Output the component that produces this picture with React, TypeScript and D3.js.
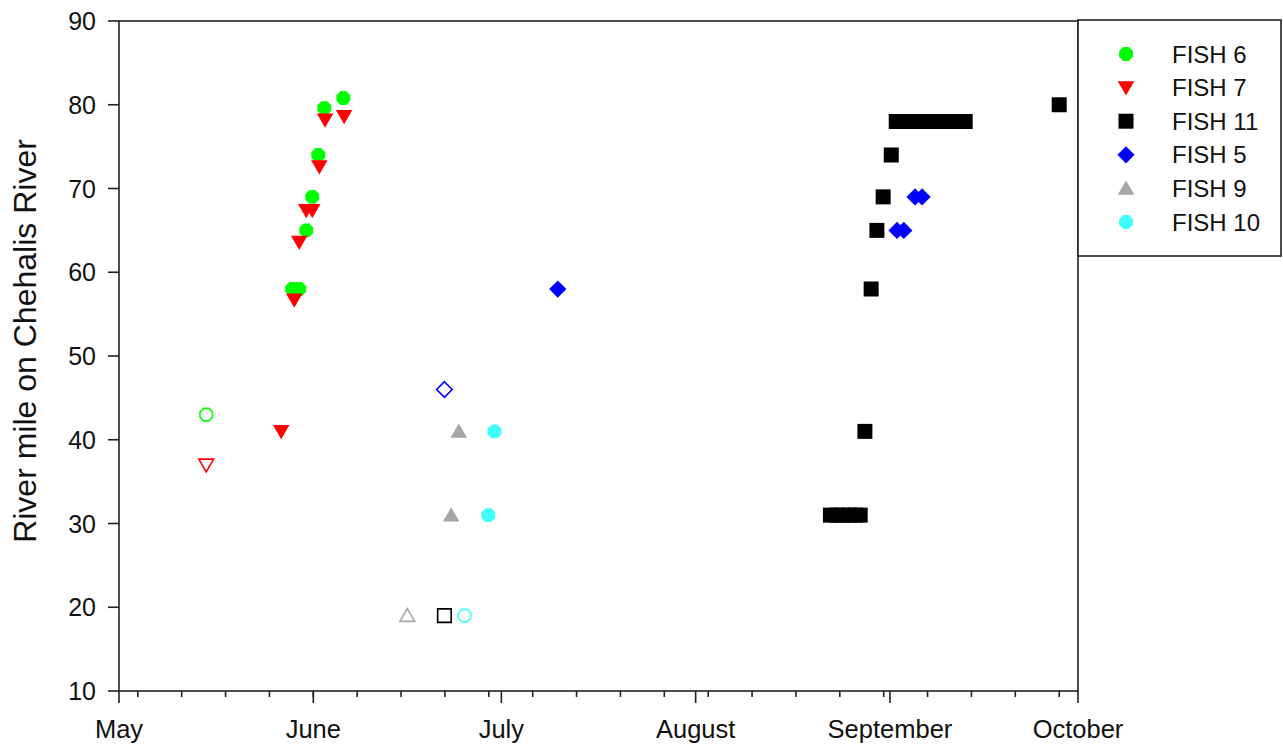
import React, { useEffect, useRef } from "react";
import * as d3 from "d3";

// ---------- data ----------
const fish6Dates = ["2009-05-28 15:00", "2009-05-29 18:00", "2009-05-30 21:00", "2009-05-31 20:00", "2009-06-01 19:00", "2009-06-02 18:00", "2009-06-05 19:00"];
const fish6Values = [58, 58, 65, 69, 74, 79.6, 80.8];
const fish6OpenDates = ["2009-05-14 22:00"];
const fish6OpenValues = [43];

const fish7Dates = ["2009-05-26 21:00", "2009-05-28 23:00", "2009-05-29 18:00", "2009-05-30 21:00", "2009-05-31 20:00", "2009-06-01 23:00", "2009-06-02 21:00", "2009-06-05 22:00"];
const fish7Values = [41, 56.7, 63.6, 67.4, 67.4, 72.6, 78.2, 78.6];
const fish7OpenDates = ["2009-05-14 22:00"];
const fish7OpenValues = [37];

const fish11Dates = [
  "2009-08-22 12:00", "2009-08-23 12:00", "2009-08-24 12:00", "2009-08-25 12:00", "2009-08-26 12:00", "2009-08-27 06:00",
  "2009-08-28 00:00", "2009-08-29 00:00", "2009-08-29 22:00", "2009-08-30 22:00", "2009-09-01 05:00",
  "2009-09-02 00:00", "2009-09-03 00:00", "2009-09-04 00:00", "2009-09-05 00:00", "2009-09-06 00:00", "2009-09-07 00:00",
  "2009-09-08 00:00", "2009-09-09 00:00", "2009-09-10 00:00", "2009-09-11 00:00", "2009-09-12 00:00", "2009-09-13 00:00",
  "2009-09-28 00:00",
];
const fish11Values = [31, 31, 31, 31, 31, 31, 41, 58, 65, 69, 74, 78, 78, 78, 78, 78, 78, 78, 78, 78, 78, 78, 78, 80];
const fish11OpenDates = ["2009-06-21 22:00"];
const fish11OpenValues = [19];

const fish5Dates = ["2009-07-10 00:00", "2009-09-02 03:00", "2009-09-03 05:00", "2009-09-05 00:00", "2009-09-06 03:00"];
const fish5Values = [58, 65, 65, 69, 69];
const fish5OpenDates = ["2009-06-21 22:00"];
const fish5OpenValues = [46];

const fish9Dates = ["2009-06-23 00:00", "2009-06-24 05:00"];
const fish9Values = [31, 41];
const fish9OpenDates = ["2009-06-16 00:00"];
const fish9OpenValues = [19];

const fish10Dates = ["2009-06-28 22:00", "2009-06-29 22:00"];
const fish10Values = [31, 41];
const fish10OpenDates = ["2009-06-25 03:00"];
const fish10OpenValues = [19];

const legendLabels = ["FISH 6", "FISH 7", "FISH 11", "FISH 5", "FISH 9", "FISH 10"];
const yTicks = [10, 20, 30, 40, 50, 60, 70, 80, 90];
const monthTickDates = ["2009-05-01", "2009-06-01", "2009-07-01", "2009-08-01", "2009-09-01", "2009-10-01"];
const yTitle = "River mile on Chehalis River";

// ---------- layout ----------
const W = 1283, H = 744;
const M = { left: 119, top: 21, right: 1078, bottom: 691 };
const FONT = "'Liberation Sans', Arial, sans-serif";

type Shape = "circle" | "tdown" | "square" | "diamond" | "tup" | "hex";

function markerPath(shape: Shape, r: number): string {
  switch (shape) {
    case "circle":
      return d3.symbol(d3.symbolCircle, Math.PI * r * r)()!;
    case "hex": {
      const pts: [number, number][] = [];
      for (let i = 0; i < 8; i++) {
        const a = (Math.PI / 8) + (i * Math.PI) / 4;
        pts.push([r * Math.cos(a), r * Math.sin(a)]);
      }
      return "M" + pts.map((p) => p.join(",")).join("L") + "Z";
    }
    case "square":
      return `M${-r},${-r}H${r}V${r}H${-r}Z`;
    case "diamond": {
      const a = r * 1.15;
      return `M0,${-a}L${a},0L0,${a}L${-a},0Z`;
    }
    case "tup":
      return `M0,${-r * 1.05}L${r * 1.1},${r * 0.85}L${-r * 1.1},${r * 0.85}Z`;
    case "tdown":
      return `M0,${r * 1.05}L${r * 1.1},${-r * 0.85}L${-r * 1.1},${-r * 0.85}Z`;
  }
}

interface Series {
  dates: string[];
  values: number[];
  openDates: string[];
  openValues: number[];
  color: string;
  shape: Shape;
}

const series: Series[] = [
  { dates: fish6Dates, values: fish6Values, openDates: fish6OpenDates, openValues: fish6OpenValues, color: "#00ff00", shape: "hex" },
  { dates: fish7Dates, values: fish7Values, openDates: fish7OpenDates, openValues: fish7OpenValues, color: "#ff0000", shape: "tdown" },
  { dates: fish11Dates, values: fish11Values, openDates: fish11OpenDates, openValues: fish11OpenValues, color: "#000000", shape: "square" },
  { dates: fish5Dates, values: fish5Values, openDates: fish5OpenDates, openValues: fish5OpenValues, color: "#0000ff", shape: "diamond" },
  { dates: fish9Dates, values: fish9Values, openDates: fish9OpenDates, openValues: fish9OpenValues, color: "#a6a6a6", shape: "tup" },
  { dates: fish10Dates, values: fish10Values, openDates: fish10OpenDates, openValues: fish10OpenValues, color: "#40ffff", shape: "hex" },
];

export default function App() {
  const ref = useRef<SVGSVGElement>(null);

  useEffect(() => {
    const svg = d3.select(ref.current!);
    svg.selectAll("*").remove();
    const parse = d3.timeParse("%Y-%m-%d %H:%M");
    const parseDay = d3.timeParse("%Y-%m-%d");

    const x = d3.scaleTime()
      .domain([parseDay("2009-05-01")!, parseDay("2009-10-01")!])
      .range([M.left, M.right]);
    const y = d3.scaleLinear().domain([10, 90]).range([M.bottom, M.top]);

    // frame
    svg.append("rect")
      .attr("x", M.left).attr("y", M.top)
      .attr("width", M.right - M.left).attr("height", M.bottom - M.top)
      .attr("fill", "none").attr("stroke", "#222").attr("stroke-width", 1.6);

    // y ticks
    const gy = svg.append("g");
    yTicks.forEach((v) => {
      gy.append("line").attr("x1", M.left - 11).attr("x2", M.left)
        .attr("y1", y(v)).attr("y2", y(v)).attr("stroke", "#222").attr("stroke-width", 1.6);
      gy.append("text").attr("x", M.left - 23).attr("y", y(v))
        .attr("text-anchor", "end").attr("dominant-baseline", "central")
        .attr("font-family", FONT).attr("font-size", 25).attr("fill", "#111")
        .text(String(v));
    });

    // x minor ticks (weekly, Mondays)
    const gx = svg.append("g");
    const minor = d3.timeMonday.range(x.domain()[0], x.domain()[1]);
    minor.forEach((d) => {
      gx.append("line").attr("x1", x(d)).attr("x2", x(d))
        .attr("y1", M.bottom).attr("y2", M.bottom + 6).attr("stroke", "#222").attr("stroke-width", 1.6);
    });
    monthTickDates.forEach((s) => {
      const d = parseDay(s)!;
      gx.append("line").attr("x1", x(d)).attr("x2", x(d))
        .attr("y1", M.bottom).attr("y2", M.bottom + 12).attr("stroke", "#222").attr("stroke-width", 1.6);
      gx.append("text").attr("x", x(d)).attr("y", 738)
        .attr("text-anchor", "middle")
        .attr("font-family", FONT).attr("font-size", 25.5).attr("fill", "#111")
        .text(d3.timeFormat("%B")(d));
    });

    // y title
    svg.append("text")
      .attr("transform", `translate(36,341) rotate(-90)`)
      .attr("text-anchor", "middle")
      .attr("font-family", FONT).attr("font-size", 32).attr("fill", "#111")
      .text(yTitle);

    // markers
    const g = svg.append("g");
    series.forEach((s) => {
      const r = 7.5;
      const p = markerPath(s.shape, r);
      s.dates.forEach((ds, i) => {
        g.append("path").attr("d", p)
          .attr("transform", `translate(${x(parse(ds)!)},${y(s.values[i])})`)
          .attr("fill", s.color);
      });
      const po = markerPath(s.shape, r * 0.9);
      s.openDates.forEach((ds, i) => {
        g.append("path").attr("d", po)
          .attr("transform", `translate(${x(parse(ds)!)},${y(s.openValues[i])})`)
          .attr("fill", "none").attr("stroke", s.color).attr("stroke-width", 1.6);
      });
    });

    // legend
    const lg = svg.append("g");
    lg.append("rect").attr("x", M.right).attr("y", 20).attr("width", 203).attr("height", 236)
      .attr("fill", "white").attr("stroke", "#222").attr("stroke-width", 1.6);
    legendLabels.forEach((lab, i) => {
      const s = series[i];
      const yy = 54 + i * 33.6;
      lg.append("path").attr("d", markerPath(s.shape, 7.5))
        .attr("transform", `translate(1126,${yy})`).attr("fill", s.color);
      lg.append("text").attr("x", 1172).attr("y", yy)
        .attr("dominant-baseline", "central")
        .attr("font-family", FONT).attr("font-size", 24).attr("fill", "#111")
        .text(lab);
    });
  }, []);

  return (
    <svg ref={ref} width={W} height={H} style={{ position: "absolute", left: 0, top: 0, background: "white" }} />
  );
}
